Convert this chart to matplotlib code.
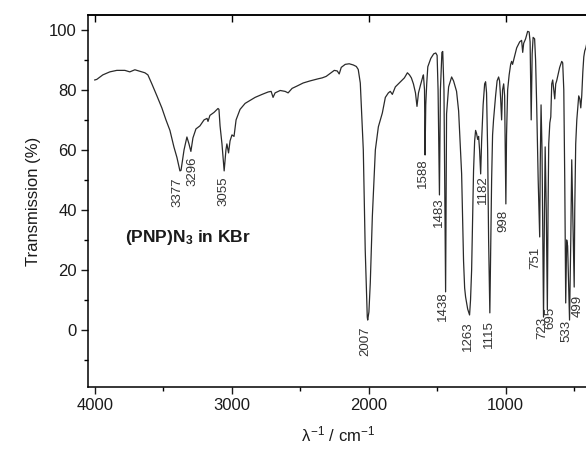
import matplotlib.pyplot as plt
from matplotlib.ticker import MultipleLocator

plt.rcParams['font.family'] = ['Liberation Sans', 'DejaVu Sans']
plt.rcParams['mathtext.fontset'] = 'custom'
plt.rcParams['mathtext.rm'] = 'Liberation Sans'
plt.rcParams['mathtext.it'] = 'Liberation Sans'
plt.rcParams['mathtext.bf'] = 'Liberation Sans:bold'

# IR spectrum (wavenumber in cm-1, transmission in %)
wavenumber = [
    4000, 3985, 3941, 3890, 3839, 3780, 3744, 3707, 3671, 3634, 3612, 3583, 3546, 3510,
    3480, 3451, 3422, 3400, 3378, 3370, 3348, 3327, 3312, 3298, 3283, 3261, 3232, 3202,
    3180, 3173, 3159, 3129, 3100, 3093, 3085, 3071, 3055, 3042, 3035, 3023, 3012, 2998,
    2983, 2968, 2939, 2902, 2866, 2829, 2778, 2734, 2712, 2698, 2683, 2646, 2610, 2588,
    2559, 2522, 2478, 2427, 2368, 2339, 2310, 2280, 2251, 2229, 2215, 2200, 2171, 2142,
    2112, 2090, 2076, 2061, 2039, 2025, 2010, 2007, 1998, 1988, 1973, 1951, 1929, 1900,
    1878, 1856, 1842, 1827, 1805, 1768, 1739, 1717, 1702, 1688, 1673, 1658, 1647, 1636,
    1622, 1607, 1600, 1592, 1588, 1583, 1576, 1568, 1546, 1525, 1510, 1500, 1493, 1483,
    1476, 1465, 1459, 1450, 1438, 1431, 1416, 1394, 1380, 1358, 1343, 1329, 1321, 1314,
    1307, 1299, 1292, 1277, 1263, 1256, 1248, 1241, 1234, 1226, 1219, 1212, 1204, 1197,
    1190, 1182, 1175, 1164, 1153, 1146, 1139, 1131, 1124, 1115, 1109, 1102, 1095, 1088,
    1073, 1062, 1051, 1044, 1036, 1029, 1022, 1014, 1007, 998, 993, 985, 974, 963,
    956, 949, 941, 919, 897, 883, 875, 868, 854, 839, 828, 821, 813, 806,
    799, 788, 781, 773, 762, 751, 747, 741, 734, 723, 716, 711, 703, 695,
    690, 685, 677, 670, 663, 656, 648, 641, 634, 627, 605, 590, 583, 575,
    568, 561, 554, 547, 533, 524, 517, 510, 499, 495, 488, 480, 473, 466,
    458, 451, 444, 436, 429, 422, 414, 407, 400,
]
transmission = [
    83.3, 83.5, 85.0, 86.0, 86.5, 86.5, 86.0, 86.7, 86.2, 85.7, 85.0, 82.0, 78.0, 74.0,
    70.0, 66.5, 61.0, 57.5, 53.0, 53.2, 60.0, 64.3, 62.0, 59.5, 64.0, 67.0, 68.0, 70.0,
    70.5, 69.5, 71.5, 72.5, 73.8, 73.5, 68.0, 62.0, 53.0, 60.0, 62.0, 59.0, 63.0, 65.0,
    64.5, 70.0, 73.5, 75.5, 76.5, 77.5, 78.5, 79.3, 79.5, 77.5, 79.0, 79.8, 79.5, 79.0,
    80.5, 81.3, 82.3, 83.0, 83.7, 84.0, 84.5, 85.5, 86.5, 86.3, 85.3, 87.5, 88.5, 88.7,
    88.3, 87.8, 86.8, 82.3, 60.0, 26.7, 4.3, 3.3, 6.0, 15.7, 37.8, 60.0, 67.7, 72.3,
    77.5, 79.0, 79.5, 78.5, 81.0, 82.7, 84.0, 85.7, 85.0, 84.0, 82.0, 79.0, 74.5, 79.0,
    81.5, 84.0, 85.0, 80.0, 58.3, 75.0, 82.0, 87.7, 90.5, 92.0, 92.3, 91.5, 80.0, 45.0,
    80.0, 92.5, 92.8, 80.0, 12.7, 72.0, 81.0, 84.3, 83.0, 79.5, 73.0, 60.0, 52.0, 37.0,
    23.0, 14.0, 11.0, 7.0, 5.0, 10.0, 20.0, 36.7, 53.0, 63.0, 66.5, 65.5, 63.5, 64.5,
    60.0, 52.0, 63.0, 75.0, 82.0, 82.7, 79.0, 60.0, 30.0, 5.7, 25.0, 50.0, 65.0, 70.0,
    78.0, 83.0, 84.3, 83.0, 77.0, 70.0, 80.0, 82.0, 78.0, 42.0, 65.0, 80.0, 85.0, 88.5,
    89.5, 88.5, 90.0, 94.0, 96.0, 96.5, 92.5, 95.5, 97.0, 99.5, 99.3, 96.0, 70.0, 92.0,
    97.5, 97.0, 90.0, 75.0, 50.0, 31.0, 55.0, 75.0, 60.0, 4.3, 40.0, 61.0, 40.0, 6.7,
    40.0, 62.0, 69.0, 71.0, 82.0, 83.3, 80.0, 77.0, 82.0, 83.0, 87.5, 89.5, 89.0, 80.0,
    50.0, 9.0, 30.0, 28.0, 3.3, 30.0, 56.7, 40.0, 14.3, 40.0, 62.0, 70.0, 74.0, 78.0,
    77.0, 74.0, 78.0, 86.0, 91.0, 93.0, 94.0, 95.5, 96.0,
]

# peak labels: text, x of label centre, y of label top
peak_text = ['3377', '3296', '3055', '2007', '1588', '1483', '1438', '1263',
             '1182', '1115', '998', '751', '723', '695', '533', '499']
peak_x = [3393, 3283, 3063, 2024, 1607, 1490, 1454, 1278,
          1168, 1124, 1015, 781, 733, 670, 554, 473]
peak_y = [50.7, 57.7, 51.0, 1.0, 57.3, 44.3, 12.7, 2.7,
          51.7, 3.3, 40.0, 27.7, 4.3, 7.7, 3.3, 11.7]

fig = plt.figure(figsize=(5.86, 4.5), dpi=100)
ax = fig.add_axes([0.150, 0.140, 0.853, 0.827])

ax.plot(wavenumber, transmission, color='#2a2a2a', lw=0.9)

for t, x, y in zip(peak_text, peak_x, peak_y):
    ax.text(x, y, t, rotation=90, ha='center', va='top', fontsize=9.5, color='#333333')

ax.text(3780, 30.7, r'(PNP)N$_\mathbf{3}$ in KBr', fontsize=12.5, fontweight='bold',
        ha='left', va='center', color='#1a1a1a')

ax.set_xlim(4050, 400)
ax.set_ylim(-19, 105)
ax.set_xticks([4000, 3000, 2000, 1000])
ax.xaxis.set_minor_locator(MultipleLocator(500))
ax.set_yticks([0, 20, 40, 60, 80, 100])
ax.yaxis.set_minor_locator(MultipleLocator(10))
ax.tick_params(which='major', length=5, width=1, labelsize=12, pad=3, colors='#1a1a1a')
ax.tick_params(which='minor', length=3, width=1)
ax.spines['right'].set_visible(False)
for s in ['left', 'bottom', 'top']:
    ax.spines[s].set_linewidth(1.1)

top = ax.secondary_xaxis('top')
top.set_xticks([4000, 3000, 2000, 1000])
top.tick_params(direction='in', length=5, width=1, labeltop=False)
top.spines['top'].set_linewidth(1.1)

ax.set_ylabel('Transmission (%)', fontsize=12, labelpad=6, color='#1a1a1a')
ax.set_xlabel(r'$\lambda^{-1}$ / cm$^{-1}$', fontsize=12, labelpad=8, color='#1a1a1a')

fig.savefig('out.png', dpi=100)
